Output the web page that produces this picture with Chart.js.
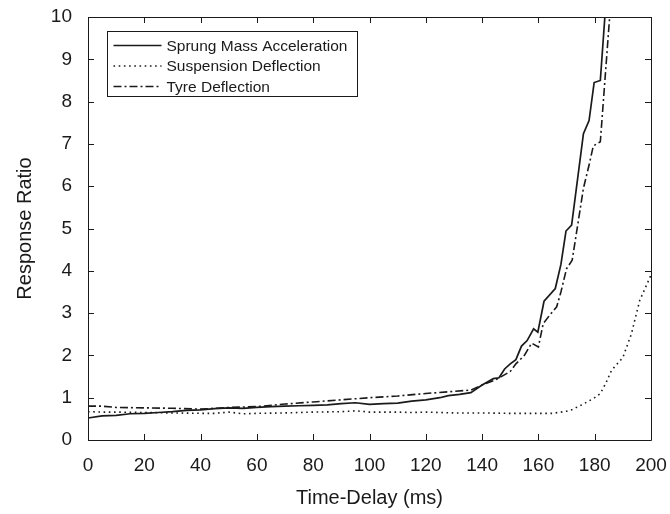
<!DOCTYPE html>
<html>
<head>
<meta charset="utf-8">
<title>Response Ratio vs Time-Delay</title>
<script src="https://cdn.jsdelivr.net/npm/chart.js@4.4.1/dist/chart.umd.min.js"></script>
<style>
    html, body { margin: 0; padding: 0; background: #fff; }
    #wrap { width: 670px; height: 514px; }
</style>
</head>
<body>
<div id="wrap"><canvas id="responseChart" width="670" height="514"></canvas></div>
<script>
// values
const sprungDelay = [0, 5, 10, 15, 20, 25, 30, 35, 40, 45, 50, 55, 60, 65, 70, 75, 80, 85, 90, 95, 100, 105, 110, 115, 120, 125, 128, 132, 136, 140, 144, 146, 148, 150, 152, 154, 156, 158.3, 159.8, 162, 166, 168, 169.8, 171.8, 176, 178, 179.8, 182, 185];
const sprungAccel = [0.52, 0.57, 0.58, 0.62, 0.63, 0.65, 0.67, 0.70, 0.71, 0.74, 0.76, 0.75, 0.77, 0.79, 0.80, 0.81, 0.82, 0.83, 0.86, 0.88, 0.84, 0.86, 0.87, 0.92, 0.95, 1.00, 1.05, 1.08, 1.12, 1.30, 1.45, 1.47, 1.68, 1.80, 1.90, 2.22, 2.35, 2.63, 2.55, 3.28, 3.58, 4.15, 4.94, 5.08, 7.24, 7.55, 8.45, 8.50, 11.3];

const suspDelay = [0, 5, 10, 20, 30, 40, 45, 50, 55, 60, 70, 80, 90, 95, 100, 110, 115, 120, 130, 140, 150, 160, 165, 170, 172, 176, 180, 182, 184, 186, 190, 193, 196, 200];
const suspDeflection = [0.67, 0.66, 0.66, 0.65, 0.64, 0.63, 0.63, 0.66, 0.62, 0.63, 0.64, 0.66, 0.67, 0.69, 0.66, 0.66, 0.65, 0.66, 0.64, 0.64, 0.63, 0.63, 0.63, 0.68, 0.72, 0.85, 1.00, 1.10, 1.35, 1.65, 1.95, 2.50, 3.30, 3.90];

const tyreDelay = [0, 5, 10, 20, 30, 40, 50, 60, 70, 80, 90, 100, 110, 120, 130, 136, 140, 145, 150, 152, 155, 157.6, 160, 161.7, 164, 166.5, 168, 170, 172, 176, 178, 179.5, 182, 185.4, 186.5];
const tyreDeflection = [0.80, 0.80, 0.77, 0.76, 0.75, 0.73, 0.77, 0.79, 0.85, 0.90, 0.95, 1.00, 1.04, 1.10, 1.15, 1.18, 1.30, 1.43, 1.62, 1.80, 2.00, 2.29, 2.20, 2.75, 2.95, 3.15, 3.50, 4.05, 4.25, 5.95, 6.50, 6.95, 7.05, 10.08, 11.3];

const xTicks = [0, 20, 40, 60, 80, 100, 120, 140, 160, 180, 200];
const yTicks = [0, 1, 2, 3, 4, 5, 6, 7, 8, 9, 10];

const seriesNames = ['Sprung Mass Acceleration', 'Suspension Deflection', 'Tyre Deflection'];

const toPoints = (xs, ys) => xs.map((x, i) => ({ x: x, y: ys[i] }));

const FONT = "'Liberation Sans', Arial, Helvetica, sans-serif";
const INK = '#1a1a1a';

// box + inward ticks on all four sides, matlab style
const frameTicks = {
    id: 'frameTicks',
    afterDraw(chart) {
        const ctx = chart.ctx;
        const a = chart.chartArea;
        const xs = chart.scales.x, ys = chart.scales.y;
        const len = 6;
        ctx.save();
        ctx.strokeStyle = INK;
        ctx.lineWidth = 1;
        ctx.beginPath();
        ctx.rect(Math.round(a.left) + 0.5, Math.round(a.top) + 0.5,
                 Math.round(a.right - a.left), Math.round(a.bottom - a.top));
        xTicks.forEach(v => {
            const px = Math.round(xs.getPixelForValue(v)) + 0.5;
            ctx.moveTo(px, a.bottom); ctx.lineTo(px, a.bottom - len);
            ctx.moveTo(px, a.top); ctx.lineTo(px, a.top + len);
        });
        yTicks.forEach(v => {
            const py = Math.round(ys.getPixelForValue(v)) + 0.5;
            ctx.moveTo(a.left, py); ctx.lineTo(a.left + len, py);
            ctx.moveTo(a.right, py); ctx.lineTo(a.right - len, py);
        });
        ctx.stroke();
        ctx.restore();
    }
};

// legend drawn inside the plot, top-left
const boxLegend = {
    id: 'boxLegend',
    afterDraw(chart) {
        const ctx = chart.ctx;
        const left = 107.5, top = 31.5, w = 250, h = 65;
        ctx.save();
        ctx.fillStyle = '#fff';
        ctx.fillRect(left, top, w, h);
        ctx.strokeStyle = INK;
        ctx.lineWidth = 1;
        ctx.setLineDash([]);
        ctx.strokeRect(left, top, w, h);
        ctx.font = '15.5px ' + FONT;
        ctx.textBaseline = 'middle';
        chart.data.datasets.forEach((ds, i) => {
            const y = top + 14 + i * 20.5;
            ctx.strokeStyle = ds.borderColor;
            ctx.lineWidth = ds.borderWidth;
            ctx.setLineDash(ds.borderDash || []);
            ctx.beginPath();
            ctx.moveTo(left + 6, y);
            ctx.lineTo(left + 54, y);
            ctx.stroke();
            ctx.fillStyle = INK;
            ctx.fillText(ds.label, left + 59, y + 1);
        });
        ctx.restore();
    }
};

document.addEventListener('DOMContentLoaded', function () {
    var ctx = document.getElementById('responseChart').getContext('2d');
    var responseChart = new Chart(ctx, {
        type: 'line',
        data: {
            datasets: [{
                label: seriesNames[0],
                data: toPoints(sprungDelay, sprungAccel),
                borderColor: INK,
                borderWidth: 1.7,
                borderDash: []
            }, {
                label: seriesNames[1],
                data: toPoints(suspDelay, suspDeflection),
                borderColor: INK,
                borderWidth: 1.6,
                borderDash: [1.6, 3.6]
            }, {
                label: seriesNames[2],
                data: toPoints(tyreDelay, tyreDeflection),
                borderColor: INK,
                borderWidth: 1.6,
                borderDash: [8, 3, 2, 3]
            }]
        },
        options: {
            responsive: false,
            animation: false,
            events: [],
            elements: { point: { radius: 0 }, line: { tension: 0 } },
            layout: { padding: { top: 17, right: 19, left: 0, bottom: 0 } },
            plugins: {
                legend: { display: false },
                tooltip: { enabled: false }
            },
            scales: {
                x: {
                    type: 'linear',
                    min: 0,
                    max: 200,
                    grid: { display: false, drawTicks: false },
                    border: { display: false },
                    afterBuildTicks: s => { s.ticks = xTicks.map(v => ({ value: v })); },
                    afterFit: s => { s.height = 74; s.paddingLeft = 0; s.paddingRight = 0; },
                    ticks: { color: INK, padding: 14, maxRotation: 0, font: { family: FONT, size: 19 } },
                    title: { display: true, text: 'Time-Delay (ms)', color: INK, padding: { top: 4 }, font: { family: FONT, size: 20 } }
                },
                y: {
                    min: 0,
                    max: 10,
                    grid: { display: false, drawTicks: false },
                    border: { display: false },
                    afterBuildTicks: s => { s.ticks = yTicks.map(v => ({ value: v })); },
                    afterFit: s => { s.width = 88; s.paddingTop = 0; s.paddingBottom = 0; },
                    ticks: { color: INK, padding: 16, font: { family: FONT, size: 19 } },
                    title: { display: true, text: 'Response Ratio', color: INK, padding: { top: 13, bottom: 0 }, font: { family: FONT, size: 20 } }
                }
            }
        },
        plugins: [frameTicks, boxLegend]
    });
});
</script>
</body>
</html>
